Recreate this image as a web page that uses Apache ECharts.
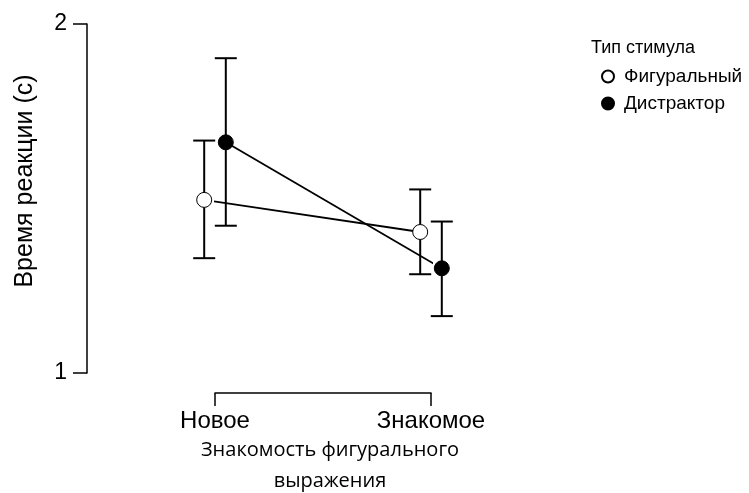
<!DOCTYPE html>
<html>
<head>
<meta charset="utf-8">
<script src="https://cdn.jsdelivr.net/npm/echarts@6/dist/echarts.min.js"></script>
<style>html,body{margin:0;padding:0;background:#fff;}#c{width:749px;height:493px;}</style>
</head>
<body>
<div id="c"></div>
<script>
var categories = ['Новое', 'Знакомое'];
var seriesNames = ['Фигуральный', 'Дистрактор'];
var figMean = [1.496, 1.404];
var figLow = [1.329, 1.283];
var figHigh = [1.666, 1.526];
var disMean = [1.661, 1.300];
var disLow = [1.422, 1.163];
var disHigh = [1.902, 1.434];
var yTicks = [1, 2];
var dodge = 0.05;

var chart = echarts.init(document.getElementById('c'), null, {renderer: 'canvas'});

function pts(means, off) {
  return means.map(function (v, i) { return [i + 1 + off, v]; });
}
function bars(lows, highs, off) {
  return lows.map(function (l, i) { return [i + 1 + off, l, highs[i]]; });
}
function renderBar(params, api) {
  var x = api.value(0);
  var p1 = api.coord([x, api.value(1)]);
  var p2 = api.coord([x, api.value(2)]);
  var w = 11;
  var st = {stroke: '#000', lineWidth: 2};
  return {
    type: 'group',
    children: [
      {type: 'line', shape: {x1: p1[0], y1: p1[1], x2: p2[0], y2: p2[1]}, style: st},
      {type: 'line', shape: {x1: p1[0] - w, y1: p1[1], x2: p1[0] + w, y2: p1[1]}, style: st},
      {type: 'line', shape: {x1: p2[0] - w, y1: p2[1], x2: p2[0] + w, y2: p2[1]}, style: st}
    ]
  };
}

var option = {
  animation: false,
  backgroundColor: '#fff',
  grid: {left: 215, width: 216, top: 24, height: 349},
  xAxis: {
    type: 'value', min: 1, max: 2, interval: 1, offset: 20,
    splitLine: {show: false},
    axisLine: {show: true, lineStyle: {color: '#000', width: 1.5}},
    axisTick: {show: true, length: 13, lineStyle: {color: '#000', width: 1.5}},
    axisLabel: {
      margin: 16, fontSize: 24, color: '#000', fontFamily: 'Liberation Sans',
      formatter: function (v) { return categories[Math.round(v) - 1] || ''; }
    }
  },
  yAxis: {
    type: 'value', min: yTicks[0], max: yTicks[yTicks.length - 1], interval: 1, offset: 128,
    splitLine: {show: false},
    axisLine: {show: true, lineStyle: {color: '#000', width: 1.5}},
    axisTick: {show: true, length: 14, lineStyle: {color: '#000', width: 1.5}},
    axisLabel: {margin: 20, fontSize: 23, color: '#000', fontFamily: 'Liberation Sans'}
  },
  legend: {
    orient: 'vertical', left: 596, top: 62, itemGap: 8,
    itemWidth: 12, itemHeight: 12, icon: 'circle',
    data: seriesNames,
    textStyle: {fontSize: 19, color: '#000', fontFamily: 'Liberation Sans', padding: [0, 0, 0, 5]}
  },
  graphic: [
    {type: 'text', x: 25, y: 181, rotation: Math.PI / 2, style: {text: 'Время реакции (с)', fontSize: 25, fill: '#000', fontFamily: 'Liberation Sans', align: 'center', verticalAlign: 'middle'}},
    {type: 'text', left: 591, top: 39, style: {text: 'Тип стимула', fontSize: 18, fill: '#000', fontFamily: 'Liberation Sans'}},
    {type: 'text', x: 330, y: 450, style: {text: 'Знакомость фигурального', fontSize: 20, fill: '#000', fontFamily: 'Open Sans', align: 'center', verticalAlign: 'middle'}},
    {type: 'text', x: 330, y: 481, style: {text: 'выражения', fontSize: 20, fill: '#000', fontFamily: 'Open Sans', align: 'center', verticalAlign: 'middle'}}
  ],
  series: [
    {type: 'custom', renderItem: renderBar, data: bars(figLow, figHigh, -dodge), clip: false, z: 1, silent: true},
    {type: 'custom', renderItem: renderBar, data: bars(disLow, disHigh, dodge), clip: false, z: 1, silent: true},
    {
      name: seriesNames[0], type: 'line', data: pts(figMean, -dodge), clip: false, z: 3,
      symbol: 'circle', symbolSize: 15, showAllSymbol: true,
      lineStyle: {color: '#000', width: 1.8},
      itemStyle: {color: '#fff', borderColor: '#000', borderWidth: 1}
    },
    {
      name: seriesNames[1], type: 'line', data: pts(disMean, dodge), clip: false, z: 3,
      symbol: 'circle', symbolSize: 15, showAllSymbol: true,
      lineStyle: {color: '#000', width: 1.8},
      itemStyle: {color: '#000', borderColor: '#000', borderWidth: 1}
    }
  ]
};
chart.setOption(option);
</script>
</body>
</html>
